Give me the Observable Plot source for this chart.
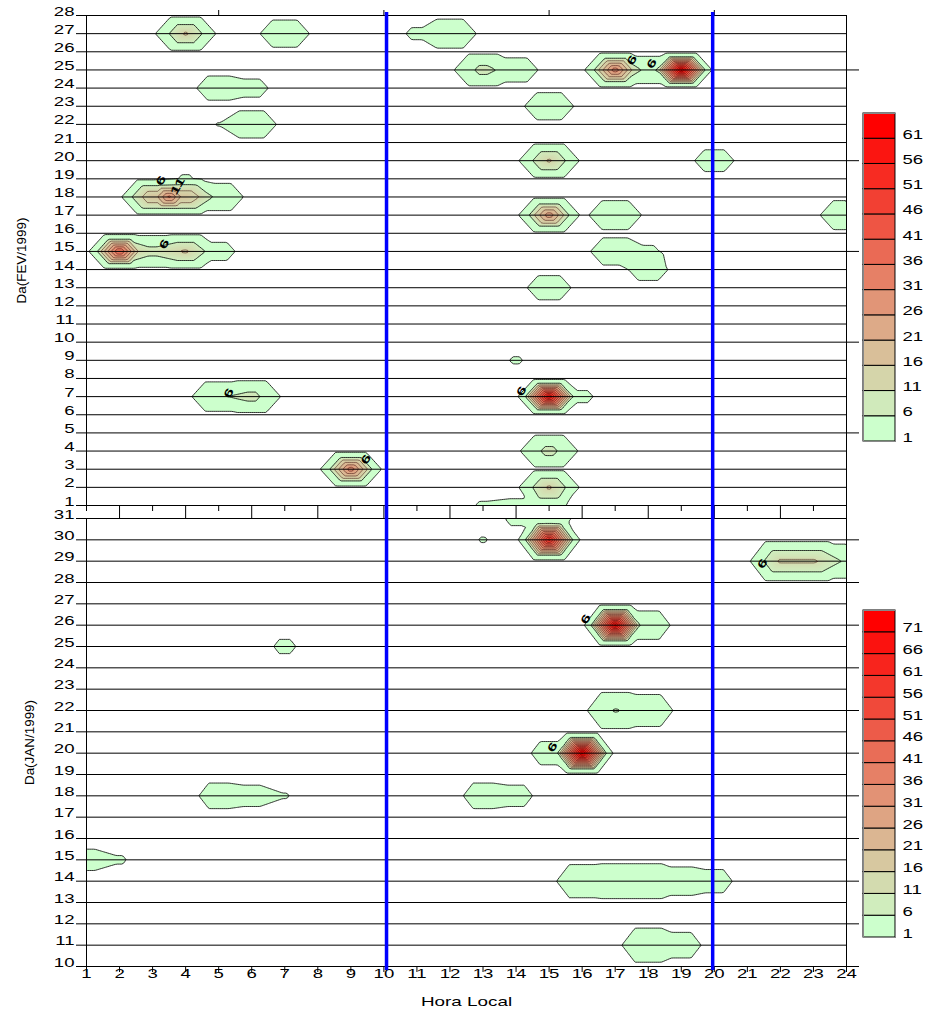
<!DOCTYPE html>
<html><head><meta charset="utf-8">
<script src="https://cdn.jsdelivr.net/npm/d3@7"></script>
<script src="https://cdn.jsdelivr.net/npm/@observablehq/plot@0.6"></script>
<style>
html,body{margin:0;padding:0;background:#fff;}
#chart{position:relative;width:925px;height:1011px;overflow:hidden;background:#fff;}
#chart svg{position:absolute;left:0;top:0;}
</style></head><body>
<div id="chart"></div>
<script>
// ---- data ----
const hours = d3.range(1, 25);
const febDays = d3.range(1, 29);
const janDays = d3.range(10, 32);
const evenHours = d3.range(2, 25, 2);
const oddHours = d3.range(1, 25, 2);
const febTopTicks = [5, 10, 15, 20];
const febRightTicks = [5, 10, 15, 20, 25];
const janRightTicks = d3.range(10, 31, 2);
const dividers = [10.08, 19.95];

// cell values [hour, day, value] — FEV/1999
const febCells = [
  [4,27,12],[7,27,4],[11,27,1.5],[12,27,5],
  [13,25,8],[14,25,3],[17,25,14],[18,25,4],[19,25,14],
  [5,24,3],[6,24,2],
  [15,23,4],
  [5,22,1.1],[6,22,4],
  [15,20,12],[20,20,2.5],
  [4,19,1.3],
  [3,18,16],[4,18,16],[5,18,4],
  [15,17,14],[17,17,5],[24,17,5],
  [2,15,14],[3,15,8],[4,15,12],[5,15,2],[17,15,4],[18,15,1.5],
  [18,14,2.5],
  [15,13,3],
  [14,9,1.25],
  [5,7,5.3],[6,7,8],[15,7,18],[16,7,1.5],
  [15,4,8],
  [9,3,14],
  [15,2,12],
  [13,1,1.3],[14,1,1.6],[15,1,2]
];
// core maxima [hour, day, value] — FEV/1999
const febPeaks = [[17,25,30],[19,25,64],[3.5,18,28],[15,17,25],[2,15,38],[15,7,58],[9,3,30]];

// cell values [hour, day, value] — JAN/1999
const janCells = [
  [14,31,1.5],[15,31,3],
  [13,30,1.15],[15,30,16],
  [22,29,12],[23,29,12],[24,29,5],
  [17,26,16],[18,26,3],
  [7,25,1.5],
  [17,22,6.5],[18,22,4],
  [15,20,2.2],[16,20,16],
  [5,18,2.5],[6,18,2],[7,18,1.15],[13,18,2.5],[14,18,2],
  [1,15,2],[2,15,1.25],
  [16,14,4.5],[17,14,5.5],[18,14,5.5],[19,14,3],[20,14,2.2],
  [18,11,5],[19,11,2.5]
];
// core maxima [hour, day, value] — JAN/1999
const janPeaks = [[15,30,60],[17,26,70],[16,20,75]];

// contour labels [hour, day, text]
const febLabels = [[3.35,18.8,"6"],[3.85,18.5,"11"],[3.45,15.3,"6"],[5.4,7.1,"6"],[9.55,3.45,"6"],[14.26,7.2,"6"],[17.6,25.45,"6"],[18.2,25.25,"6"]];
const janLabels = [[16.2,26.2,"6"],[15.2,20.2,"6"],[21.55,28.8,"6"]];
const febLegend = d3.range(1, 62, 5);
const janLegend = d3.range(1, 72, 5);

// ---- drawing ----
const W = 925, H = 1011;
const font = "'Liberation Sans', Arial, sans-serif";
const colorScale = (max) => ({type: "linear", domain: [1, max], range: ["#ccffcc", "#ff0000"], interpolate: d3.interpolateRgb, clamp: true});
const baseStyle = {background: "none", fontFamily: font, fontSize: "12px", overflow: "visible", color: "#000"};
const CORE = 0.8; // reach of a core maximum (hours / days)

// surface through the cell values (hexagonal tent per cell) with sharp cores
function surface(cells, peaks) {
  const hex = (dx, dy) => Math.max(dy, dx + 0.5 * dy);
  return (x, y) => {
    let s = 0;
    for (const [h, d, v] of cells) {
      const dx = Math.abs(x - h), dy = Math.abs(y - d);
      if (dx >= 1 || dy >= 1) continue;
      const n = hex(dx, dy);
      if (n < 1) s += v * (1 - n);
    }
    for (const [h, d, p] of peaks) {
      const dx = Math.abs(x - h), dy = Math.abs(y - d);
      if (dx >= CORE || dy >= CORE) continue;
      const n = hex(dx, dy) / CORE;
      if (n < 1) s = Math.max(s, p * (1 - n));
    }
    return s;
  };
}

function panel(o) {
  const f = surface(o.cells, o.peaks);
  const lo = o.days[0], hi = o.days[o.days.length - 1];
  const ext = {x1: 1, x2: 24, y1: lo, y2: hi};
  return Plot.plot({
    width: W, height: H,
    marginLeft: 86, marginRight: W - 846, marginTop: o.top, marginBottom: H - o.bottom,
    x: {domain: [1, 24], label: null},
    y: {domain: [lo, hi], label: null},
    color: colorScale(o.colorMax),
    style: baseStyle,
    marks: [
      Plot.contour({...ext, fill: f, stroke: "none", thresholds: [1, ...d3.range(6, o.levelMax + 1)]}),
      Plot.ruleY(o.days, {stroke: "#000", strokeWidth: 1}),
      Plot.contour({...ext, value: f, thresholds: [1, 6], stroke: "#000", strokeWidth: 0.8, fill: "none"}),
      Plot.contour({...ext, value: f, thresholds: d3.range(11, o.levelMax, 5), stroke: "#300", strokeWidth: 0.5, fill: "none"}),
      Plot.frame({stroke: "#000"}),
      Plot.axisY(o.days, {anchor: "left", tickSize: 10, tickPadding: 2, label: null}),
      Plot.axisY(o.rightTicks, {anchor: "right", tickSize: 12, tickFormat: () => "", label: null}),
      ...o.extra,
      Plot.ruleX(dividers, {stroke: "#0000ff", strokeWidth: 3.5, insetTop: o.insetTop, insetBottom: o.insetBottom}),
      Plot.text(o.labels, {x: d => d[0], y: d => d[1], text: d => d[2], rotate: -60, fontWeight: "bold", fontSize: 11}),
      Plot.text([o.yLabel], {text: d => d, frameAnchor: "left", dx: o.yLabelDx, rotate: -90, textAnchor: "middle", lineAnchor: "bottom", fontSize: 12})
    ]
  });
}

function legend(o) {
  const topVal = o.bins[o.bins.length - 1] + 5;
  return Plot.plot({
    width: W, height: H,
    marginLeft: 863, marginRight: W - 895, marginTop: o.top, marginBottom: H - o.bottom,
    x: {domain: [0, 1], axis: null},
    y: {domain: [1, topVal], axis: null},
    color: colorScale(o.colorMax),
    style: baseStyle,
    marks: [
      Plot.rect(o.bins, {x1: 0, x2: 1, y1: d => d, y2: d => d + 5, fill: d => d, stroke: "#000", strokeWidth: 1}),
      Plot.frame({stroke: "#888"}),
      Plot.text(o.bins, {x: 1, y: d => d, text: d => String(d), textAnchor: "start", dx: 7})
    ]
  });
}

const topPanel = panel({
  cells: febCells, peaks: febPeaks, days: febDays, top: 15, bottom: 505, colorMax: 61, levelMax: 66,
  rightTicks: febRightTicks, labels: febLabels, yLabel: "Da(FEV/1999)", yLabelDx: -61,
  insetTop: -3, insetBottom: -13,
  extra: [
    Plot.axisX(febTopTicks, {anchor: "top", tickSize: 6, tickFormat: () => "", label: null}),
    Plot.axisX(evenHours, {anchor: "bottom", tickSize: 13, tickFormat: () => "", label: null}),
    Plot.axisX(oddHours, {anchor: "bottom", tickSize: 6, tickFormat: () => "", label: null})
  ]
});
const bottomPanel = panel({
  cells: janCells, peaks: janPeaks, days: janDays, top: 518, bottom: 966, colorMax: 71, levelMax: 76,
  rightTicks: janRightTicks, labels: janLabels, yLabel: "Da(JAN/1999)", yLabelDx: -53,
  insetTop: 0, insetBottom: -4,
  extra: [
    Plot.axisX(hours, {anchor: "bottom", tickSize: 6, tickPadding: 5, label: null}),
    Plot.text(["Hora Local"], {text: d => d, frameAnchor: "bottom", dy: 39, lineAnchor: "bottom", fontSize: 13})
  ]
});
const legTop = legend({bins: febLegend, top: 113, bottom: 441, colorMax: 61});
const legBottom = legend({bins: janLegend, top: 610, bottom: 937, colorMax: 71});

const chart = document.getElementById("chart");
for (const svg of [topPanel, bottomPanel, legTop, legBottom]) {
  chart.appendChild(svg);
  svg.querySelectorAll("text").forEach(t => {
    const s = t.textContent.trim();
    if (!s) return;
    const k = /^\d+$/.test(s) ? 1.55 : s === "Hora Local" ? 1.45 : 1.12;
    let tr = t.getAttribute("transform") || "";
    const x = t.getAttribute("x"), y = t.getAttribute("y");
    if (x !== null || y !== null) {
      tr += ` translate(${+x || 0},${+y || 0})`;
      t.removeAttribute("x"); t.removeAttribute("y");
    }
    t.setAttribute("transform", (tr + ` scale(${k},1)`).trim());
  });
}
</script>
</body></html>
